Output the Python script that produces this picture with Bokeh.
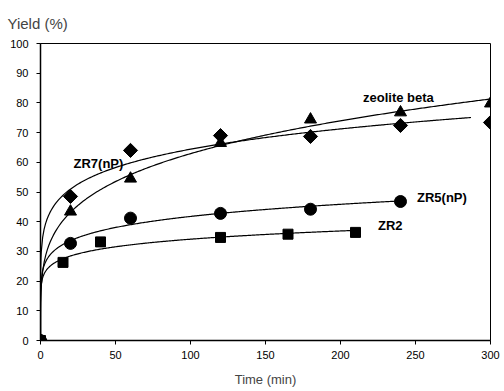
import numpy as np
from bokeh.plotting import figure
from bokeh.models import Range1d, Label, FixedTicker
from bokeh.embed import file_html
from bokeh.resources import INLINE

# data (time in min, yield in %)
t_diamond = [0, 20, 60, 120, 180, 240, 300]
y_diamond = [0, 48.5, 64, 69, 68.7, 72.4, 73.4]
t_triangle = [0, 20, 60, 120, 180, 240, 300]
y_triangle = [0, 43.4, 54.5, 66.5, 74.4, 76.8, 79.8]
t_circle = [0, 20, 60, 120, 180, 240]
y_circle = [0, 32.7, 41.2, 42.8, 44.2, 46.8]
t_square = [0, 15, 40, 120, 165, 210]
y_square = [0, 26.3, 33.2, 34.7, 35.8, 36.4]

series_labels = ["zeolite beta", "ZR7(nP)", "ZR5(nP)", "ZR2"]
x_ticks = [0, 50, 100, 150, 200, 250, 300]
y_ticks = list(range(0, 101, 10))

FONT = "Liberation Sans"

p = figure(width=504, height=391, output_backend="svg", toolbar_location=None,
           x_range=Range1d(0, 300), y_range=Range1d(0, 100),
           min_border_left=40, min_border_right=14, min_border_top=42, min_border_bottom=51,
           title="Yield (%)")
p.title.text_font = FONT
p.title.text_font_size = "15px"
p.title.text_font_style = "normal"
p.title.align = "left"
p.title.offset = -33
p.title.standoff = 24

p.grid.visible = False
p.outline_line_color = "black"
p.outline_line_width = 1
p.background_fill_color = "white"
p.border_fill_color = "white"

for ax in (p.xaxis[0], p.yaxis[0]):
    ax.axis_line_color = "black"
    ax.axis_line_width = 1.5
    ax.major_tick_line_color = "black"
    ax.major_tick_out = 4
    ax.major_tick_in = 0
    ax.minor_tick_line_color = None
    ax.major_label_text_font = FONT
    ax.major_label_text_font_size = "11px"
    ax.major_label_text_color = "black"

p.xaxis.ticker = FixedTicker(ticks=x_ticks)
p.yaxis.ticker = FixedTicker(ticks=y_ticks)
p.yaxis.major_label_standoff = 8
p.xaxis.major_label_standoff = 6
p.xaxis.axis_label = "Time (min)"
p.xaxis.axis_label_text_font = FONT
p.xaxis.axis_label_text_font_size = "13px"
p.xaxis.axis_label_text_font_style = "normal"
p.xaxis.axis_label_standoff = 10

# fitted trend curves (power-law fit of each data set)
def trend(ts, ys, t_end):
    ts = np.array(ts[1:], float)
    ys = np.array(ys[1:], float)
    b, la = np.polyfit(np.log(ts), np.log(ys), 1)
    tt = np.concatenate([[0.0, 0.001, 0.01, 0.05, 0.1, 0.3], np.linspace(0.5, t_end, 300)])
    return tt, np.exp(la) * np.power(np.maximum(tt, 1e-9), b)

for ts, ys, te in [(t_diamond, y_diamond, 287), (t_triangle, y_triangle, 300),
                   (t_circle, y_circle, 240), (t_square, y_square, 210)]:
    xx, yy = trend(ts, ys, te)
    p.line(xx, yy, line_color="black", line_width=1.2)

p.scatter(t_diamond, y_diamond, marker="square", angle=np.pi / 4, size=10, color="black")
p.scatter(t_triangle, y_triangle, marker="triangle", size=12, color="black")
p.scatter(t_circle, y_circle, marker="circle", size=12, color="black")
p.scatter(t_square, y_square, marker="square", size=10, color="black")

label_pos = [(215, 81.8), (22, 59.6), (251, 48), (225, 38.7)]
for txt, (lx, ly) in zip(series_labels, label_pos):
    p.add_layout(Label(x=lx, y=ly, text=txt, text_font=FONT, text_font_size="13px",
                       text_font_style="bold", text_color="black", text_baseline="middle"))

open("out.html", "w").write(file_html(p, INLINE))
